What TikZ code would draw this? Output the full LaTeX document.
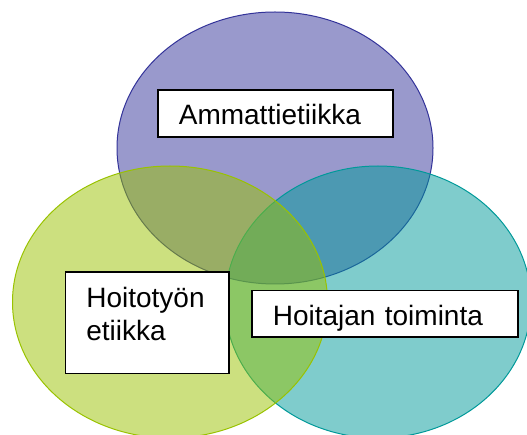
\documentclass[tikz,border=0pt]{standalone}
\usepackage{fontspec}
\setmainfont{Liberation Sans}
\usepackage{tikz}
\usepackage{xcolor}
\usetikzlibrary{positioning}

\definecolor{ammblue}{RGB}{51,51,153}
\definecolor{hoitgreen}{RGB}{153,194,0}
\definecolor{toimteal}{RGB}{0,153,153}

\tikzset{
    setfill/.style={line width=1pt, fill opacity=0.5},
    textbox/.style={draw=black, line width=1.7pt, fill=white, anchor=north west, align=left,
        inner xsep=21pt, inner ysep=0pt, font=\fontsize{28pt}{33.6pt}\selectfont}
}

\begin{document}
\begin{tikzpicture}[x=1pt, y=-1pt]
                        \useasboundingbox (0, 0) rectangle (527, 435);
                        \draw[setfill, draw=ammblue, fill=ammblue] (275, 148) ellipse [x radius=158pt, y radius=136pt];
                        \draw[setfill, draw=toimteal, fill=toimteal] (378, 302) ellipse [x radius=153pt, y radius=136pt];
                        \draw[setfill, draw=hoitgreen, fill=hoitgreen] (170, 302) ellipse [x radius=157.5pt, y radius=136pt];
                        \node[textbox, text width=193pt, text height=35pt, text depth=12pt] (amm) at (157, 89) {Ammattietiikka};
                        \node[textbox, text width=121.5pt, text height=35pt, text depth=66pt] (hoit) at (64.5, 271.5) {Hoitotyön\\etiikka};
                        \node[textbox, text width=224pt, text height=34.7pt, text depth=11.6pt] (toim) at (251, 289.7) {Hoitajan toiminta};
                    \end{tikzpicture}
\end{document}
